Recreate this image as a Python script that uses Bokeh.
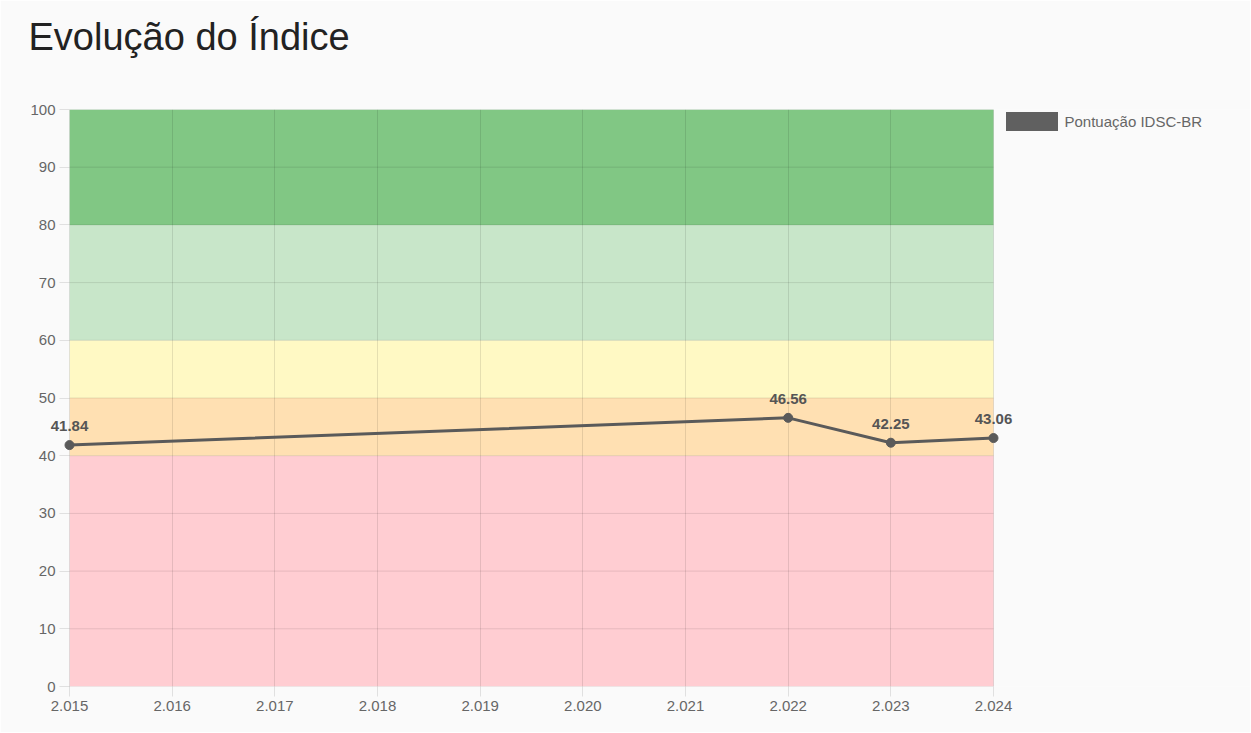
from bokeh.plotting import figure
from bokeh.models import (ColumnDataSource, FixedTicker, Legend, LegendItem,
                          Range1d, LinearAxis)
from bokeh.core.properties import value
from bokeh.embed import file_html
from bokeh.resources import INLINE

# ---- data ----
years = [2015, 2022, 2023, 2024]
scores = [41.84, 46.56, 42.25, 43.06]
score_labels = ["41.84", "46.56", "42.25", "43.06"]
tick_years = [2015, 2016, 2017, 2018, 2019, 2020, 2021, 2022, 2023, 2024]
tick_labels = ["2.015", "2.016", "2.017", "2.018", "2.019", "2.020",
               "2.021", "2.022", "2.023", "2.024"]
y_ticks = [0, 10, 20, 30, 40, 50, 60, 70, 80, 90, 100]
band_bottoms = [0, 40, 50, 60, 80]
band_tops = [40, 50, 60, 80, 100]
band_colors = ["#ffcdd2", "#ffe0b2", "#fff9c4", "#c8e6c9", "#81c784"]
series_name = "Pontuação IDSC-BR"
title_text = "Evolução do Índice"

BG = "#fafafa"
FONT = "Liberation Sans"
GRAY = "#666666"
LINE = "#5a5a5a"

W, H = 1250, 732
LEFT, TOP, BOTTOM = 69, 109, H - 686
PLOT_W = 924                      # pixel width of the 2015-2024 area
frame_w = W - LEFT
x0, x1 = tick_years[0], tick_years[-1]
x_end = x0 + (x1 - x0) * frame_w / PLOT_W   # frame extends right to hold legend

p = figure(width=W, height=H, output_backend="svg", toolbar_location=None,
           x_range=Range1d(x0, x_end), y_range=Range1d(0, 100),
           min_border_left=LEFT, min_border_right=0, min_border_top=TOP,
           min_border_bottom=BOTTOM, background_fill_color=BG,
           border_fill_color=BG, outline_line_color=None)

xaxis = p.below[0]
yaxis = p.left[0]

p.title.text = title_text
p.title.text_font = FONT
p.title.text_font_size = "38px"
p.title.text_font_style = "normal"
p.title.text_color = "#222222"
p.title.align = "left"
p.title.offset = -41
p.title.standoff = 10

# invisible spacer between title and plot area (one hidden tick)
spacer = LinearAxis(ticker=FixedTicker(ticks=[x0]), axis_line_color=None,
                    major_tick_out=47, major_tick_in=0, major_label_standoff=0,
                    minor_tick_line_color=None, major_tick_line_color=BG,
                    major_label_overrides={x0: ""})
p.add_layout(spacer, "above")

band_src = ColumnDataSource(dict(left=[x0] * 5, right=[x1] * 5,
                                 bottom=band_bottoms, top=band_tops,
                                 color=band_colors))
p.quad(left="left", right="right", bottom="bottom", top="top",
       fill_color="color", line_color=None, source=band_src, level="image")

# horizontal grid lines limited to the data area
p.segment(x0=[x0] * len(y_ticks), x1=[x1] * len(y_ticks), y0=y_ticks,
          y1=y_ticks, line_color="black", line_alpha=0.1, line_width=1,
          level="underlay")

src = ColumnDataSource(dict(x=years, y=scores, lab=score_labels))
# zero-size quads: only provide the legend swatch
swatch = p.quad(left="x", right="x", top="y", bottom="y", source=src,
                fill_color="#606060", line_color=None)
p.line("x", "y", source=src, line_color=LINE, line_width=3, level="overlay")
p.scatter("x", "y", source=src, size=9, fill_color=LINE, line_color=LINE,
          level="overlay")
p.text("x", "y", text="lab", source=src, text_align="center",
       text_baseline="alphabetic", y_offset=-19, text_font=value(FONT),
       text_font_size="15px", text_font_style="bold", text_color="#555555",
       level="overlay")

legend = Legend(items=[LegendItem(label=series_name, renderers=[swatch])],
                location=(929.5, 577 - 24), glyph_width=65, glyph_height=24,
                label_text_font=FONT, label_text_font_size="15px",
                label_text_color=GRAY, padding=0, margin=0, label_standoff=1,
                border_line_alpha=0, background_fill_alpha=0)
p.add_layout(legend, "center")

for ax in (xaxis, yaxis):
    ax.axis_line_color = "black"
    ax.axis_line_alpha = 0.1
    ax.major_tick_line_color = "black"
    ax.major_tick_line_alpha = 0.1
    ax.major_tick_out = 10
    ax.major_tick_in = 0
    ax.minor_tick_line_color = None
    ax.major_label_text_font = FONT
    ax.major_label_text_font_size = "15px"
    ax.major_label_text_color = GRAY
    ax.major_label_standoff = 4

xaxis.axis_line_color = None
xaxis.ticker = FixedTicker(ticks=tick_years)
xaxis.major_label_overrides = {y: l for y, l in zip(tick_years, tick_labels)}
yaxis.ticker = FixedTicker(ticks=y_ticks)

p.xgrid.ticker = FixedTicker(ticks=tick_years)
p.xgrid.grid_line_color = "black"
p.xgrid.grid_line_alpha = 0.1
p.ygrid.visible = False

html = file_html(p, INLINE)
html = html.replace("<body>", '<body style="background:%s">' % BG, 1)
open("out.html", "w").write(html)
